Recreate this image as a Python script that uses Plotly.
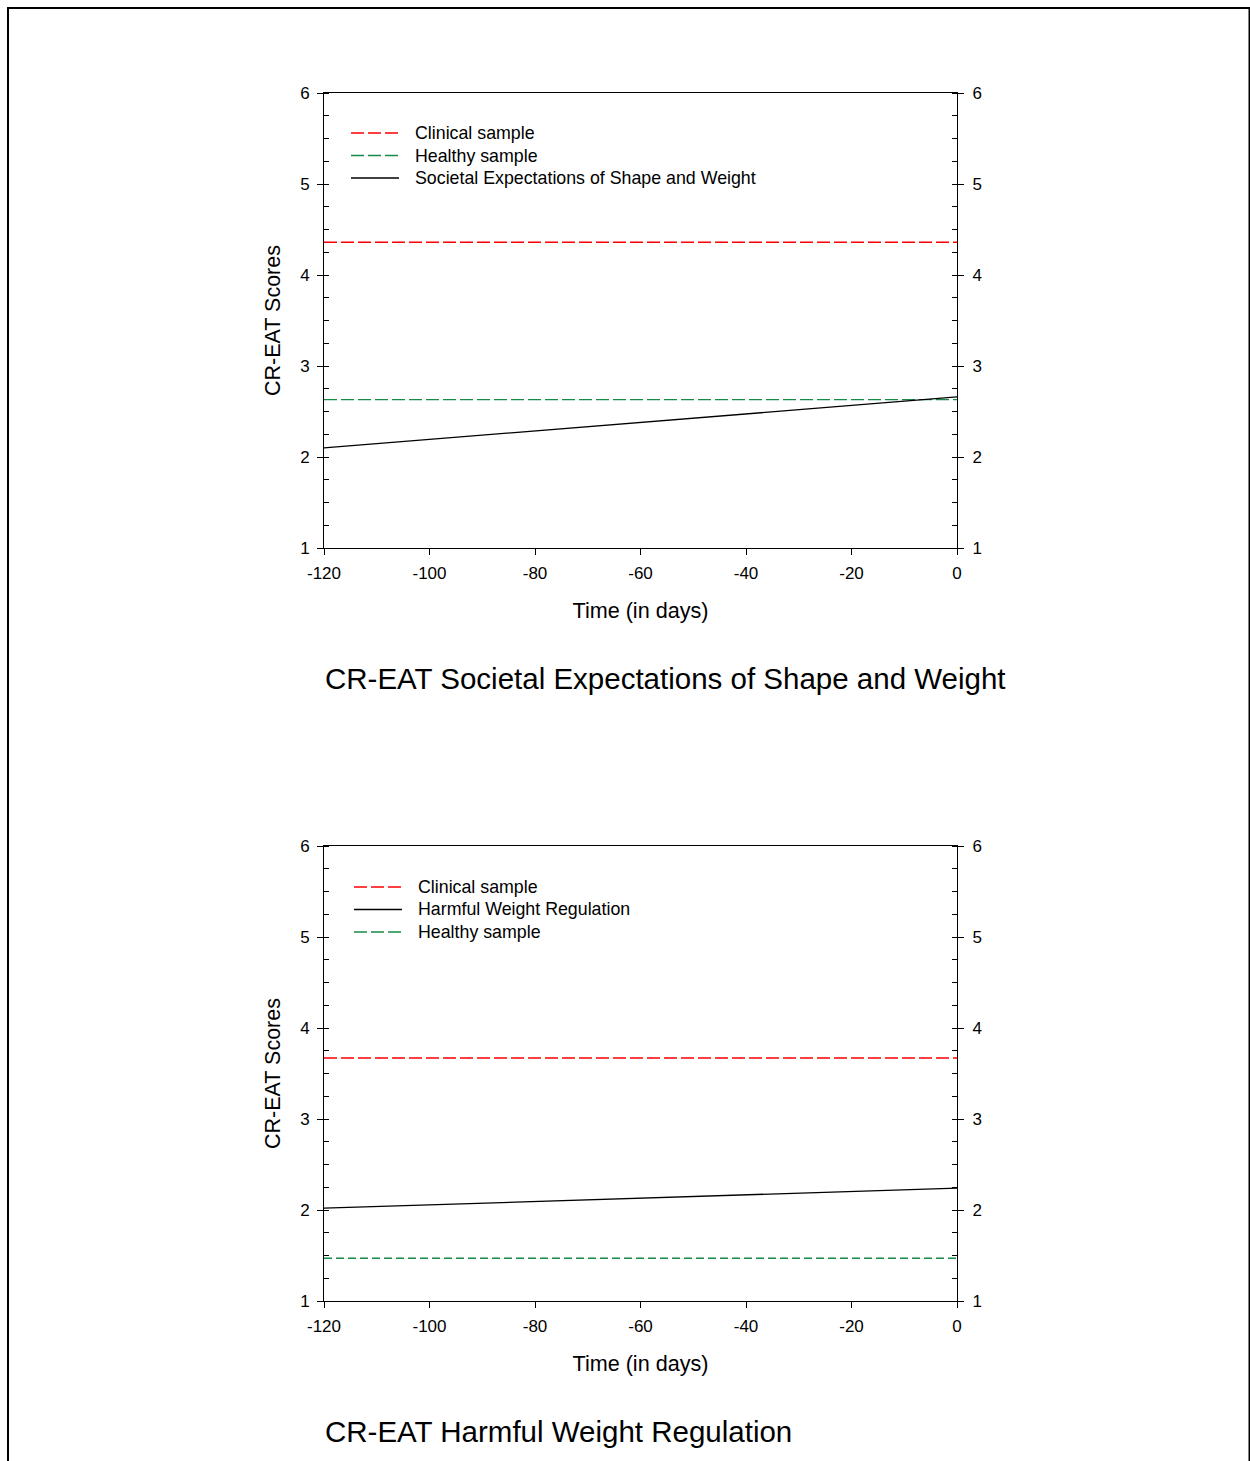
import plotly.graph_objects as go

W, H = 1250, 1461

# ---------------- data ----------------
days = [-120, 0]
x_ticks = [-120, -100, -80, -60, -40, -20, 0]
x_tick_labels = ["-120", "-100", "-80", "-60", "-40", "-20", "0"]
y_ticks = [1, 2, 3, 4, 5, 6]
y_tick_labels = ["1", "2", "3", "4", "5", "6"]

# Panel 1: Societal Expectations of Shape and Weight
p1_clinical = 4.36
p1_healthy = 2.63
p1_societal = [2.10, 2.66]
p1_names = ["Clinical sample", "Healthy sample", "Societal Expectations of Shape and Weight"]

# Panel 2: Harmful Weight Regulation
p2_clinical = 3.67
p2_healthy = 1.47
p2_harmful = [2.02, 2.24]
p2_names = ["Clinical sample", "Harmful Weight Regulation", "Healthy sample"]

p1_title = "CR-EAT Societal Expectations of Shape and Weight"
p2_title = "CR-EAT Harmful Weight Regulation"
x_title = "Time (in days)"
y_title = "CR-EAT Scores"

FONT = "Liberation Sans, Arial, sans-serif"
RED = "#ff0000"
GREEN = "#178a48"
RED_STYLE = dict(color=RED, width=1.4, dash="13px,4px")
GREEN_STYLE = dict(color=GREEN, width=1.4, dash="13px,4px")
GREEN_STYLE2 = dict(color=GREEN, width=1.4, dash="8px,4px")
BLACK_STYLE = dict(color="black", width=1.3)


def px_x(p):
    return p / W


def px_y(p):
    return 1 - p / H


fig = go.Figure()

# Panel 1 traces
p1_series = [
    ([p1_clinical] * 2, RED_STYLE),
    ([p1_healthy] * 2, GREEN_STYLE),
    (p1_societal, BLACK_STYLE),
]
for (yv, st), nm in zip(p1_series, p1_names):
    fig.add_trace(go.Scatter(x=days, y=yv, mode="lines", name=nm, line=st,
                             xaxis="x", yaxis="y", showlegend=False))

# Panel 2 traces
p2_series = [
    ([p2_clinical] * 2, RED_STYLE),
    (p2_harmful, BLACK_STYLE),
    ([p2_healthy] * 2, GREEN_STYLE2),
]
for (yv, st), nm in zip(p2_series, p2_names):
    fig.add_trace(go.Scatter(x=days, y=yv, mode="lines", name=nm, line=st,
                             xaxis="x2", yaxis="y2", showlegend=False))

# dummy traces to activate right axes
fig.add_trace(go.Scatter(x=[None], y=[None], xaxis="x", yaxis="y3", showlegend=False, hoverinfo="skip"))
fig.add_trace(go.Scatter(x=[None], y=[None], xaxis="x2", yaxis="y4", showlegend=False, hoverinfo="skip"))

xdom = [px_x(324), px_x(957)]
ydom1 = [px_y(548), px_y(93)]
ydom2 = [px_y(1301), px_y(846)]

tickfont = dict(family=FONT, size=17, color="black")


def xaxis_cfg(anchor):
    return dict(domain=xdom, anchor=anchor, range=[-120, 0], automargin=False,
                tickvals=x_ticks, ticktext=x_tick_labels,
                ticks="outside", ticklen=6, tickwidth=1, tickcolor="black",
                showline=True, linecolor="black", linewidth=1, mirror=True,
                showgrid=False, zeroline=False, tickfont=tickfont,
                ticklabelstandoff=4,
                title=dict(text=x_title, font=dict(family=FONT, size=21.6, color="black"),
                           standoff=20))


def yaxis_cfg(anchor, dom, side="left", overlay=None, title=None, standoff=4):
    d = dict(domain=dom, anchor=anchor, range=[1, 6], side=side, automargin=False,
             tickvals=y_ticks, ticktext=y_tick_labels,
             ticks="outside", ticklen=6, tickwidth=1, tickcolor="black",
             minor=dict(ticks="inside", ticklen=5, tickwidth=1, tickcolor="black",
                        dtick=0.25, tick0=1, showgrid=False),
             showline=True, linecolor="black", linewidth=1, mirror=False,
             showgrid=False, zeroline=False, tickfont=tickfont,
             ticklabelstandoff=standoff)
    if overlay:
        d["overlaying"] = overlay
    if title:
        d["title"] = dict(text=title, font=dict(family=FONT, size=21.5, color="black"),
                          standoff=13)
    return d


fig.update_layout(
    width=W, height=H, autosize=False,
    margin=dict(l=0, r=0, t=0, b=0, pad=0),
    paper_bgcolor="white", plot_bgcolor="white",
    font=dict(family=FONT, color="black"),
    xaxis=xaxis_cfg("y"),
    xaxis2=xaxis_cfg("y2"),
    yaxis=yaxis_cfg("x", ydom1, title=y_title, standoff=4),
    yaxis2=yaxis_cfg("x2", ydom2, title=y_title, standoff=4),
    yaxis3=yaxis_cfg("x", ydom1, side="right", overlay="y", standoff=5),
    yaxis4=yaxis_cfg("x2", ydom2, side="right", overlay="y2", standoff=5),
    showlegend=False,
)

# ---- legends (drawn in pixel positions) ----
legend_font = dict(family=FONT, size=17.8, color="black")


def add_legend(names, styles, line_x0, line_x1, text_x, rows):
    for nm, st, ry in zip(names, styles, rows):
        fig.add_shape(type="line", xref="paper", yref="paper",
                      x0=px_x(line_x0), x1=px_x(line_x1), y0=px_y(ry), y1=px_y(ry),
                      line=dict(color=st["color"], width=st["width"], dash=st.get("dash", "solid")))
        fig.add_annotation(text=nm, x=px_x(text_x), y=px_y(ry), xref="paper", yref="paper",
                           xanchor="left", yanchor="middle", showarrow=False,
                           font=legend_font, borderpad=0)


add_legend(p1_names, [RED_STYLE, GREEN_STYLE, BLACK_STYLE], 351, 399, 414, [133, 155.5, 178])
add_legend(p2_names, [RED_STYLE, BLACK_STYLE, GREEN_STYLE], 354, 402, 417, [887, 909.5, 932])

# panel titles
for t, yy in [(p1_title, 678), (p2_title, 1431)]:
    fig.add_annotation(text=t, x=px_x(324), y=px_y(yy), xref="paper", yref="paper",
                       xanchor="left", yanchor="middle", showarrow=False, borderpad=0,
                       font=dict(family=FONT, size=29.5, color="black"))

# page border
fig.add_shape(type="rect", xref="paper", yref="paper",
              x0=px_x(8), x1=px_x(1249.5), y0=px_y(1480), y1=px_y(8),
              line=dict(color="black", width=2), fillcolor="rgba(0,0,0,0)", layer="above")

fig.write_html(
    "out.html",
    post_script="document.body.style.margin='0px';document.body.style.overflow='hidden';"
                "document.documentElement.style.overflow='hidden';",
)
